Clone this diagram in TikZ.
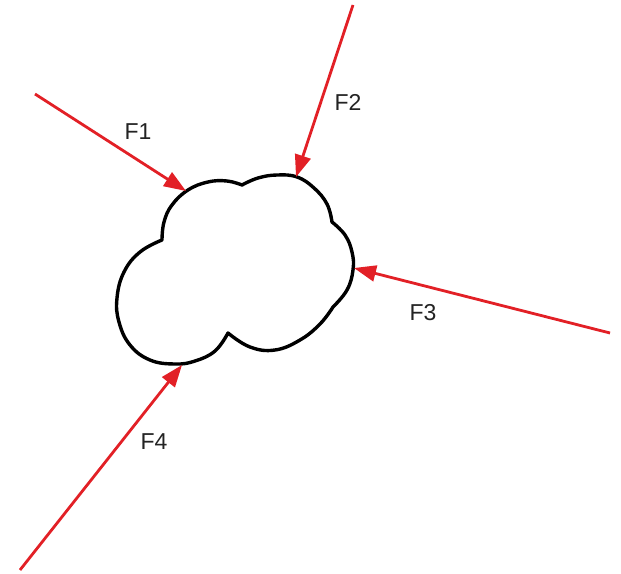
\documentclass[tikz,border=0pt]{standalone}
\usepackage{fontspec}
\setmainfont{Liberation Sans}
\usetikzlibrary{arrows.meta}
\definecolor{forcered}{RGB}{226,32,38}
\definecolor{labelgray}{RGB}{35,35,35}
\tikzset{
  force/.style={draw=forcered, line width=2.8pt, -{Triangle[length=22pt,width=16pt]}},
  flabel/.style={text=labelgray, font=\fontsize{23}{25}\selectfont, inner sep=0pt},
  cloudline/.style={draw=black, line width=3.4pt, line join=round}
}
\begin{document}
\begin{tikzpicture}[x=1pt,y=-1pt]
\useasboundingbox (0,0) rectangle (621,573);
% cloud
\path[cloudline]
  plot[smooth, tension=0.7] coordinates {(162,240) (164,222) (172,205) (188,190) (208,182) (227,181) (242,185)}
  -- plot[smooth, tension=0.7] coordinates {(242,185) (258,178) (277,175) (297,177) (314,188) (327,204) (332,222)}
  -- plot[smooth, tension=0.7] coordinates {(332,222) (345,235) (352,252) (353,270) (347,290) (333,307)}
  -- plot[smooth, tension=0.7] coordinates {(333,307) (320,324) (300,340) (275,350) (250,347) (228,333)}
  -- plot[smooth, tension=0.7] coordinates {(228,333) (215,351) (195,361) (175,364) (150,360) (130,345) (119,322) (117,298) (124,272) (140,252) (162,240)}
  -- cycle;
% endpoints
\coordinate (s1) at (35,94);   \coordinate (t1) at (186,191);
\coordinate (s2) at (353,5);   \coordinate (t2) at (296,177);
\coordinate (s3) at (610,333); \coordinate (t3) at (354,268);
\coordinate (s4) at (20,570);  \coordinate (t4) at (182,365);
\draw[force] (s1) -- (t1);
\draw[force] (s2) -- (t2);
\draw[force] (s3) -- (t3);
\draw[force] (s4) -- (t4);
\node[flabel] (l1) at (138,132) {F1};
\node[flabel] (l2) at (348,102) {F2};
\node[flabel] (l3) at (423,313) {F3};
\node[flabel] (l4) at (154,442) {F4};
\end{tikzpicture}
\end{document}
